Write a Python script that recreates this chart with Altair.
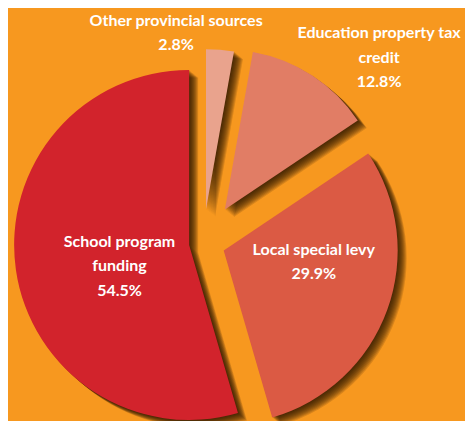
import math
import altair as alt
import pandas as pd

# ---- data ----
categories = ["Other provincial sources", "Education property tax credit",
              "Local special levy", "School program funding"]
shares = [2.8, 12.8, 29.9, 54.5]
label_lines = ["Other provincial sources", "Education property tax\ncredit",
               "Local special levy", "School program\nfunding"]

# ---- style / layout ----
colors = ["#E9A38D", "#E17D65", "#DB5A44", "#D2232C"]
explode = [34, 40, 22, 14]          # px the slice is pulled out along its mid-angle
radii = [160, 160, 174, 175]        # outer radius of each slice
label_angle = [-6.9, 40.0, 93.6, 270.7]    # label direction from pie centre (deg)
label_radius = [224, 274, 111, 83.5]       # label distance from pie centre (px)
BG = "#F7981F"
SHADOW = "#2b1600"
W, H = 457, 413
CX, CY = 195, 235
FONT = "Lato"

total = sum(shares)
df = pd.DataFrame({
    "order": list(range(len(categories))),
    "category": categories,
    "share": shares,
    "lines": label_lines,
    "explode": explode,
    "r": radii,
    "lang": label_angle,
    "lrad": label_radius,
})

base = alt.Chart(df).transform_window(
    cum="sum(share)", sort=[alt.SortField("order")]
).transform_calculate(
    start="datum.cum - datum.share",
    mid=f"2*PI*(datum.cum - datum.share/2)/{total}",
).transform_calculate(
    cx=f"{CX} + datum.explode*sin(datum.mid)",
    cy=f"{CY} - datum.explode*cos(datum.mid)",
    lx=f"{CX} + datum.lrad*sin(datum.lang*PI/180)",
    ly=f"{CY} - datum.lrad*cos(datum.lang*PI/180)",
    label="datum.lines + '\\n' + format(datum.share, '.1f') + '%'",
)

theta_scale = alt.Scale(domain=[0, total], range=[0, 2 * math.pi])
arc_enc = dict(
    theta=alt.Theta("start:Q", scale=theta_scale),
    theta2="cum:Q",
    x=alt.X("cx:Q", scale=None, axis=None),
    y=alt.Y("cy:Q", scale=None, axis=None),
    radius=alt.Radius("r:Q", scale=None),
)

layers = []
for k in range(1, 11):
    layers.append(
        base.mark_arc(color=SHADOW, opacity=0.15, xOffset=k * 0.9, yOffset=k * 0.75)
        .encode(**arc_enc)
    )

slices = base.mark_arc().encode(
    color=alt.Color("category:N", scale=alt.Scale(domain=categories, range=colors),
                    legend=None),
    **arc_enc,
)
layers.append(slices)

labels = base.mark_text(
    font=FONT, fontSize=16, fontWeight="bold", color="white",
    lineBreak="\n", lineHeight=24.5, align="center", baseline="middle",
).encode(
    x=alt.X("lx:Q", scale=None, axis=None),
    y=alt.Y("ly:Q", scale=None, axis=None),
    text="label:N",
)
layers.append(labels)

chart = alt.layer(*layers).properties(
    width=W, height=H, padding=0, background=BG,
    autosize=alt.AutoSizeParams(type="none"),
).configure_view(stroke=None)

chart.save("out.html", embed_options={"renderer": "svg", "actions": False})
